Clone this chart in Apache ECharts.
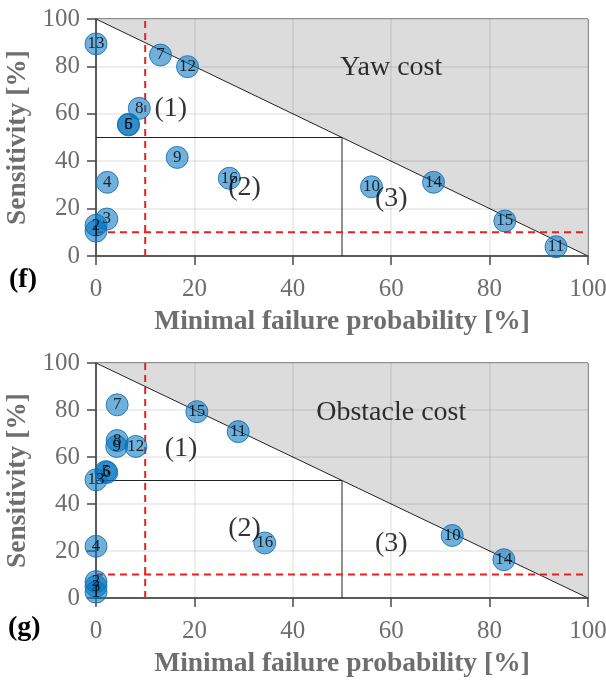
<!DOCTYPE html>
<html>
<head>
<meta charset="utf-8">
<script src="https://cdn.jsdelivr.net/npm/echarts@6/dist/echarts.min.js"></script>
<style>
  html, body { margin: 0; padding: 0; background: #fff; }
  #chart { width: 606px; height: 681px; }
</style>
</head>
<body>
<div id="chart"></div>
<script>
// Case identifiers (1..16), shared by both panels
const caseIds = [1, 2, 3, 4, 5, 6, 7, 8, 9, 10, 11, 12, 13, 14, 15, 16];

// Panel (f): yaw cost
const yawFailure     = [0,    0,    2.2,  2.3,  6.6,  6.6,  13.1, 8.8,  16.5, 56.0, 93.5, 18.6, 0,    68.6, 83.1, 27.1];
const yawSensitivity = [10.5, 13.0, 15.6, 31.1, 55.6, 55.3, 84.8, 62.3, 41.6, 29.2, 3.9,  79.9, 89.5, 31.1, 14.8, 32.8];

// Panel (g): obstacle cost
const obsFailure     = [0,   0,   0,   0,    2.0,  2.2,  4.3,  4.3,  4.2,  72.4, 28.9, 8.1,  0,    82.9, 20.5, 34.3];
const obsSensitivity = [2.5, 7.0, 5.0, 22.0, 53.8, 53.4, 82.2, 67.0, 64.5, 26.6, 70.8, 64.5, 50.3, 16.3, 79.3, 23.4];

// Axis ticks and reference thresholds
const axisMin = 0, axisMax = 100, axisStep = 20;
const thresholdPct = 10;
const boxCorner = 50;

// Region annotations
const regionNames = ['(1)', '(2)', '(3)'];
const yawRegionPos = [[15.2, 62.3], [30.2, 29], [60.0, 24]];
const obsRegionPos = [[17.3, 63.5], [30.2, 29.5], [60.0, 23]];
const panelTitles = ['Yaw cost', 'Obstacle cost'];
const titlePos = [[60.0, 79.5], [60.0, 79.0]];

const serif = '"Liberation Serif", "Times New Roman", serif';
const tickGray = '#6e6e6e';
const axisDark = '#4a4a4a';

function makeAxisX(gi) {
  return {
    type: 'value', gridIndex: gi, min: axisMin, max: axisMax, interval: axisStep, z: 2,
    name: 'Minimal failure probability [%]', nameLocation: 'middle', nameGap: 52,
    nameTextStyle: { fontFamily: serif, fontWeight: 'bold', fontSize: 27.5, color: tickGray },
    axisLine: { show: true, lineStyle: { color: axisDark, width: 1.5 } },
    axisTick: { show: true, length: 9, lineStyle: { color: axisDark, width: 1.5 } },
    axisLabel: { fontFamily: serif, fontSize: 25, color: tickGray, margin: 21 },
    splitLine: { show: true, lineStyle: { color: 'rgba(0,0,0,0.09)', width: 1.5 } }
  };
}
function makeAxisY(gi) {
  return {
    type: 'value', gridIndex: gi, min: axisMin, max: axisMax, interval: axisStep, z: 2,
    name: 'Sensitivity [%]', nameLocation: 'middle', nameGap: 58,
    nameTextStyle: { fontFamily: serif, fontWeight: 'bold', fontSize: 27.5, color: tickGray },
    axisLine: { show: true, lineStyle: { color: axisDark, width: 1.5 } },
    axisTick: { show: true, length: 9, lineStyle: { color: axisDark, width: 1.5 } },
    axisLabel: { fontFamily: serif, fontSize: 25, color: tickGray, margin: 16 },
    splitLine: { show: true, lineStyle: { color: 'rgba(0,0,0,0.09)', width: 1.5 } }
  };
}

function panelSeries(gi, fail, sens, regionPos, title, tPos) {
  const ax = { xAxisIndex: gi, yAxisIndex: gi };
  const pts = fail.map((x, i) => [x, sens[i], caseIds[i]]);
  return [
    // infeasible region above the diagonal
    Object.assign({
      type: 'line', data: [[axisMin, axisMax], [axisMax, axisMin]], symbol: 'none', silent: true,
      lineStyle: { color: '#222', width: 1 },
      areaStyle: { origin: 'end', color: '#dcdcdc', opacity: 1 }, z: 1
    }, ax),
    // box of region (2)
    Object.assign({
      type: 'line', data: [[axisMin, boxCorner], [boxCorner, boxCorner], [boxCorner, axisMin]],
      symbol: 'none', silent: true, lineStyle: { color: '#222', width: 1 }, z: 3
    }, ax),
    // 10 % thresholds
    Object.assign({
      type: 'line', data: [[thresholdPct, axisMin], [thresholdPct, axisMax]],
      symbol: 'none', silent: true, lineStyle: { color: '#e8201e', width: 2, type: [7, 5] }, z: 4
    }, ax),
    Object.assign({
      type: 'line', data: [[axisMin, thresholdPct], [axisMax, thresholdPct]],
      symbol: 'none', silent: true, lineStyle: { color: '#e8201e', width: 2, type: [7, 5] }, z: 4
    }, ax),
    // cases
    Object.assign({
      type: 'scatter', data: pts, symbol: 'circle', symbolSize: 22, z: 5,
      itemStyle: { color: 'rgba(0,114,189,0.7)', borderColor: '#0a6cb4', borderWidth: 1 },
      label: {
        show: true, position: 'inside', formatter: p => p.value[2],
        fontFamily: serif, fontSize: 17, color: '#000'
      }
    }, ax),
    // region names and panel title
    Object.assign({
      type: 'scatter', symbolSize: 0, silent: true, z: 6,
      data: regionPos.map((p, i) => [p[0], p[1], regionNames[i]]).concat([[tPos[0], tPos[1], title]]),
      label: {
        show: true, position: 'inside', formatter: p => p.value[2],
        fontFamily: serif, fontSize: 28, color: '#000'
      }
    }, ax)
  ];
}

const chart = echarts.init(document.getElementById('chart'), null, { renderer: 'canvas' });
chart.setOption({
  animation: false,
  backgroundColor: '#fff',
  grid: [
    { left: 96, top: 19, width: 492, height: 237, outerBoundsMode: 'none', containLabel: false,
      show: true, borderColor: '#333', borderWidth: 1, backgroundColor: 'transparent' },
    { left: 96, top: 363, width: 492, height: 235, outerBoundsMode: 'none', containLabel: false,
      show: true, borderColor: '#333', borderWidth: 1, backgroundColor: 'transparent' }
  ],
  xAxis: [makeAxisX(0), makeAxisX(1)],
  yAxis: [makeAxisY(0), makeAxisY(1)],
  graphic: [
    { type: 'text', left: 9, top: 266, style: { text: '(f)', font: 'bold 28px ' + serif, fill: '#000' } },
    { type: 'text', left: 8, top: 614, style: { text: '(g)', font: 'bold 28px ' + serif, fill: '#000' } }
  ],
  series: panelSeries(0, yawFailure, yawSensitivity, yawRegionPos, panelTitles[0], titlePos[0])
    .concat(panelSeries(1, obsFailure, obsSensitivity, obsRegionPos, panelTitles[1], titlePos[1]))
});
</script>
</body>
</html>
